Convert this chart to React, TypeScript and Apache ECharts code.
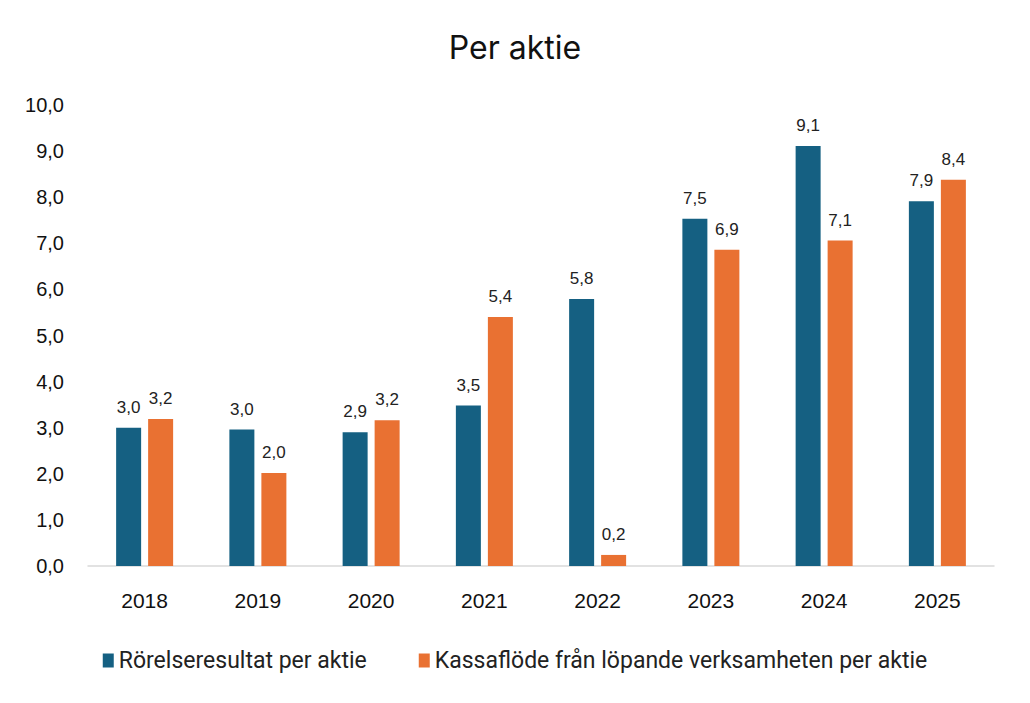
import React, { useEffect, useRef } from "react";
import * as echarts from "echarts";

const categories = ["2018", "2019", "2020", "2021", "2022", "2023", "2024", "2025"];
const rorelseresultat = [3.0, 2.96, 2.9, 3.48, 5.79, 7.53, 9.11, 7.91];
const kassaflode = [3.19, 2.02, 3.16, 5.4, 0.24, 6.86, 7.06, 8.38];
const seriesNames = ["Rörelseresultat per aktie", "Kassaflöde från löpande verksamheten per aktie"];
const colors = ["#156082", "#E97132"];

const fmt = (v: number) => v.toFixed(1).replace(".", ",");
const sans = "'Liberation Sans', Arial, sans-serif";

export default function App() {
  const ref = useRef<HTMLDivElement>(null);
  useEffect(() => {
    document.body.style.margin = "0";
    if (!ref.current) return;
    const chart = echarts.init(ref.current, null, { renderer: "svg" });
    const label = {
      show: true,
      position: "top" as const,
      distance: 12,
      color: "#222",
      fontSize: 17,
      fontFamily: sans,
      formatter: (p: any) => fmt(p.value),
    };
    chart.setOption({
      animation: false,
      backgroundColor: "#ffffff",
      title: {
        text: "Per aktie",
        left: "center",
        top: 26,
        textStyle: { fontSize: 32, fontWeight: "normal", color: "#111", fontFamily: "Inter, Lato, sans-serif" },
      },
      grid: { left: 88, right: 36, top: 105, bottom: 137, containLabel: false },
      legend: {
        top: 644,
        left: "center",
        itemWidth: 11,
        itemHeight: 14,
        itemGap: 52,
        icon: "rect",
        textStyle: { fontSize: 23, color: "#222", fontFamily: "Roboto, sans-serif" },
        data: seriesNames,
      },
      xAxis: {
        type: "category",
        data: categories,
        axisLine: { lineStyle: { color: "#d9d9d9", width: 1.5 } },
        axisTick: { show: false },
        axisLabel: { fontSize: 21, color: "#111", margin: 24, fontFamily: sans },
      },
      yAxis: {
        type: "value",
        min: 0,
        max: 10,
        interval: 1,
        axisLine: { show: false },
        axisTick: { show: false },
        splitLine: { show: false },
        axisLabel: {
          fontSize: 20,
          color: "#111",
          margin: 24,
          fontFamily: sans,
          formatter: (v: number) => fmt(v),
        },
      },
      series: [
        {
          name: seriesNames[0],
          type: "bar",
          data: rorelseresultat,
          barWidth: 25,
          barGap: "28%",
          itemStyle: { color: colors[0] },
          label,
        },
        {
          name: seriesNames[1],
          type: "bar",
          data: kassaflode,
          barWidth: 25,
          barGap: "28%",
          itemStyle: { color: colors[1] },
          label,
        },
      ],
    });
    return () => chart.dispose();
  }, []);
  return <div ref={ref} style={{ width: 1030, height: 703 }} />;
}
